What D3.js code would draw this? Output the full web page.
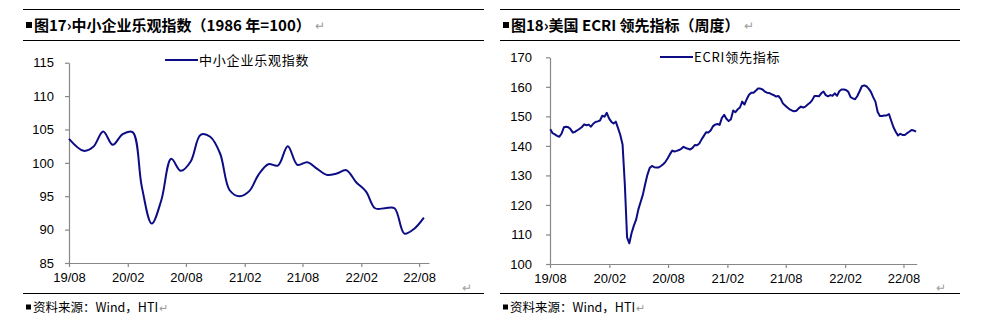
<!DOCTYPE html>
<html><head><meta charset="utf-8">
<script src="https://cdn.jsdelivr.net/npm/d3@7"></script>
<style>body{margin:0;background:#fff}svg{display:block}</style>
</head><body>
<svg id="c" width="990" height="323"></svg>
<script>
// ---------- DATA ----------
const nfibMonths = [
 "2019-08","2019-09","2019-10","2019-11","2019-12",
 "2020-01","2020-02","2020-03","2020-04","2020-05","2020-06","2020-07","2020-08","2020-09","2020-10","2020-11","2020-12",
 "2021-01","2021-02","2021-03","2021-04","2021-05","2021-06","2021-07","2021-08","2021-09","2021-10","2021-11","2021-12",
 "2022-01","2022-02","2022-03","2022-04","2022-05","2022-06","2022-07","2022-08"];
const nfibValues = [
 103.6,101.8,102.4,104.7,102.7,
 104.3,104.6,96.4,90.9,94.4,100.6,98.8,100.2,104.2,103.9,101.4,95.9,
 95.0,95.8,98.2,99.8,99.6,102.5,99.7,100.1,99.1,98.2,98.4,98.9,
 97.1,95.7,93.2,93.2,93.2,89.4,90.1,91.8];

const ecriStart = "2019-08-02"; // weekly series
const ecriValues = [
 145.6,144.3,143.9,143.4,143.1,144.2,146.3,146.5,146.3,145.6,
 144.5,144.8,145.3,145.8,146.4,147.3,147.0,147.2,146.5,147.5,
 148.1,148.3,148.6,150.2,149.9,151.2,149.3,148.2,147.6,148.2,
 146.0,143.7,140.5,127.0,109.0,107.0,110.5,113.0,115.0,118.5,
 121.0,123.5,127.0,130.2,132.5,133.2,132.8,132.7,132.7,133.2,
 133.8,134.6,135.8,137.2,138.4,138.1,138.3,138.6,139.0,139.7,
 139.3,139.0,138.8,139.3,140.3,140.2,140.8,142.2,143.4,144.6,
 144.5,145.2,146.6,147.2,147.4,147.1,149.5,150.5,149.2,148.4,
 149.0,152.0,151.4,152.4,153.0,155.0,154.0,155.8,157.3,158.0,
 158.0,158.7,159.4,159.4,159.1,158.4,158.0,157.9,157.5,157.2,
 156.7,156.9,156.0,154.4,153.7,153.0,152.4,152.0,151.7,151.9,
 152.7,153.3,153.0,153.3,154.0,154.6,155.5,156.9,156.9,156.8,
 157.8,158.4,157.2,156.8,157.2,157.0,157.8,157.0,158.5,159.1,
 159.1,158.9,158.3,156.5,156.1,155.8,156.9,158.5,160.2,160.5,
 160.2,159.4,158.3,156.5,155.0,151.5,150.1,150.1,150.3,150.3,
 150.8,148.5,146.3,144.8,143.5,144.1,143.7,143.7,144.3,144.8,
 145.4,145.2,144.8];

const xTickDates  = ["2019-08","2020-02","2020-08","2021-02","2021-08","2022-02","2022-08"];
const xTickLabels = ["19/08","20/02","20/08","21/02","21/08","22/02","22/08"];
const leftYTicks  = [85,90,95,100,105,110,115];
const rightYTicks = [100,110,120,130,140,150,160,170];

const leftTitle  = "图17›中小企业乐观指数（1986 年=100）";
const rightTitle = "图18›美国 ECRI 领先指标（周度）";
const leftLegend = "中小企业乐观指数";
const rightLegend = "ECRI领先指标";
const sourceText = "资料来源：Wind，HTI";

// ---------- DRAW ----------
const svg = d3.select("#c");
const parseM = d3.timeParse("%Y-%m");
const parseD = d3.timeParse("%Y-%m-%d");
const LINE = "#0c0c84";
const AXIS = "#878787";
const FONT = "'Liberation Sans', Arial, 'Noto Sans CJK SC', sans-serif";
const CJK = "'Noto Sans CJK SC', 'Liberation Sans', sans-serif";

function frame(x0, x1, titleX, title) {
  [9.5, 40.5, 293.5].forEach(yy =>
    svg.append("line").attr("x1", x0).attr("x2", x1).attr("y1", yy).attr("y2", yy).attr("stroke", "#000").attr("stroke-width", 1.2));
  // title
  svg.append("rect").attr("x", titleX + 1).attr("y", 22).attr("width", 6).attr("height", 6).attr("fill", "#000");
  const t = svg.append("text").attr("x", titleX + 9).attr("y", 30.5)
    .attr("font-family", CJK).attr("font-weight", "bold").attr("font-size", 15).attr("fill", "#000").text(title);
  const w = t.node().getComputedTextLength();
  svg.append("text").attr("x", titleX + 9 + w + 4).attr("y", 30).attr("font-family", FONT).attr("font-size", 12).attr("fill", "#9a9a9a").text("↵");
  // source
  svg.append("rect").attr("x", titleX + 1).attr("y", 304.5).attr("width", 5).attr("height", 5).attr("fill", "#000");
  const s = svg.append("text").attr("x", titleX + 8).attr("y", 312).attr("font-family", CJK).attr("font-size", 12.5).attr("fill", "#000").text(sourceText);
  const ws = s.node().getComputedTextLength();
  svg.append("text").attr("x", titleX + 8 + ws + 1).attr("y", 312).attr("font-family", FONT).attr("font-size", 11).attr("fill", "#9a9a9a").text("↵");
}

function panel(o) {
  const x = d3.scaleTime().domain(o.xDomain).range([o.left, o.right]);
  const y = d3.scaleLinear().domain([o.yTicks[0], o.yTicks[o.yTicks.length - 1]]).range([o.bottom, o.top]);
  const g = svg.append("g");

  const ya = g.append("g").attr("transform", `translate(${o.left},0)`)
    .call(d3.axisLeft(y).tickValues(o.yTicks).tickSize(4).tickSizeOuter(0).tickPadding(o.yPad));
  const xa = g.append("g").attr("transform", `translate(0,${o.bottom})`)
    .call(d3.axisBottom(x).tickValues(xTickDates.map(parseM)).tickFormat((d, i) => xTickLabels[i]).tickSize(4).tickSizeOuter(0).tickPadding(6));
  [ya, xa].forEach(a => {
    a.selectAll("path,line").attr("stroke", AXIS).attr("stroke-width", 1.2);
    a.selectAll("text").attr("font-family", FONT).attr("font-size", 13).attr("fill", "#000");
  });

  g.append("path").datum(o.data)
    .attr("fill", "none").attr("stroke", LINE).attr("stroke-width", 2).attr("stroke-linejoin", "round")
    .attr("d", d3.line().x(d => x(d.date)).y(d => y(d.v)).curve(o.curve));

  // legend
  g.append("line").attr("x1", o.legX).attr("x2", o.legX + 33).attr("y1", o.legY).attr("y2", o.legY)
    .attr("stroke", LINE).attr("stroke-width", 2);
  g.append("text").attr("x", o.legX + 34).attr("y", o.legY + 4.5)
    .attr("font-family", CJK).attr("font-size", 13).attr("letter-spacing", 0.8).attr("fill", "#000").text(o.legend);

  svg.append("text").attr("x", o.retX).attr("y", 292).attr("font-family", FONT).attr("font-size", 12).attr("fill", "#a0a0a0").text("↵");
}

// left
frame(23, 484, 25, leftTitle);
panel({
  left: 69, right: 429, top: 62.7, bottom: 263, yPad: 11,
  xDomain: [parseM("2019-08"), parseM("2022-09")],
  yTicks: leftYTicks,
  data: nfibMonths.map((m, i) => ({ date: d3.timeDay.offset(parseM(m), i === 0 ? 0 : 15), v: nfibValues[i] })),
  curve: d3.curveCatmullRom.alpha(0.5),
  legX: 165, legY: 60, legend: leftLegend, retX: 462
});

// right
frame(500, 960, 502, rightTitle);
const e0 = parseD(ecriStart);
panel({
  left: 550, right: 916.7, top: 57.3, bottom: 264, yPad: 14,
  xDomain: [parseM("2019-08"), parseD("2022-09-11")],
  yTicks: rightYTicks,
  data: ecriValues.map((v, i) => ({ date: d3.timeDay.offset(e0, 7 * i), v })),
  curve: d3.curveLinear,
  legX: 660, legY: 57, legend: rightLegend, retX: 936
});
</script>
</body></html>
